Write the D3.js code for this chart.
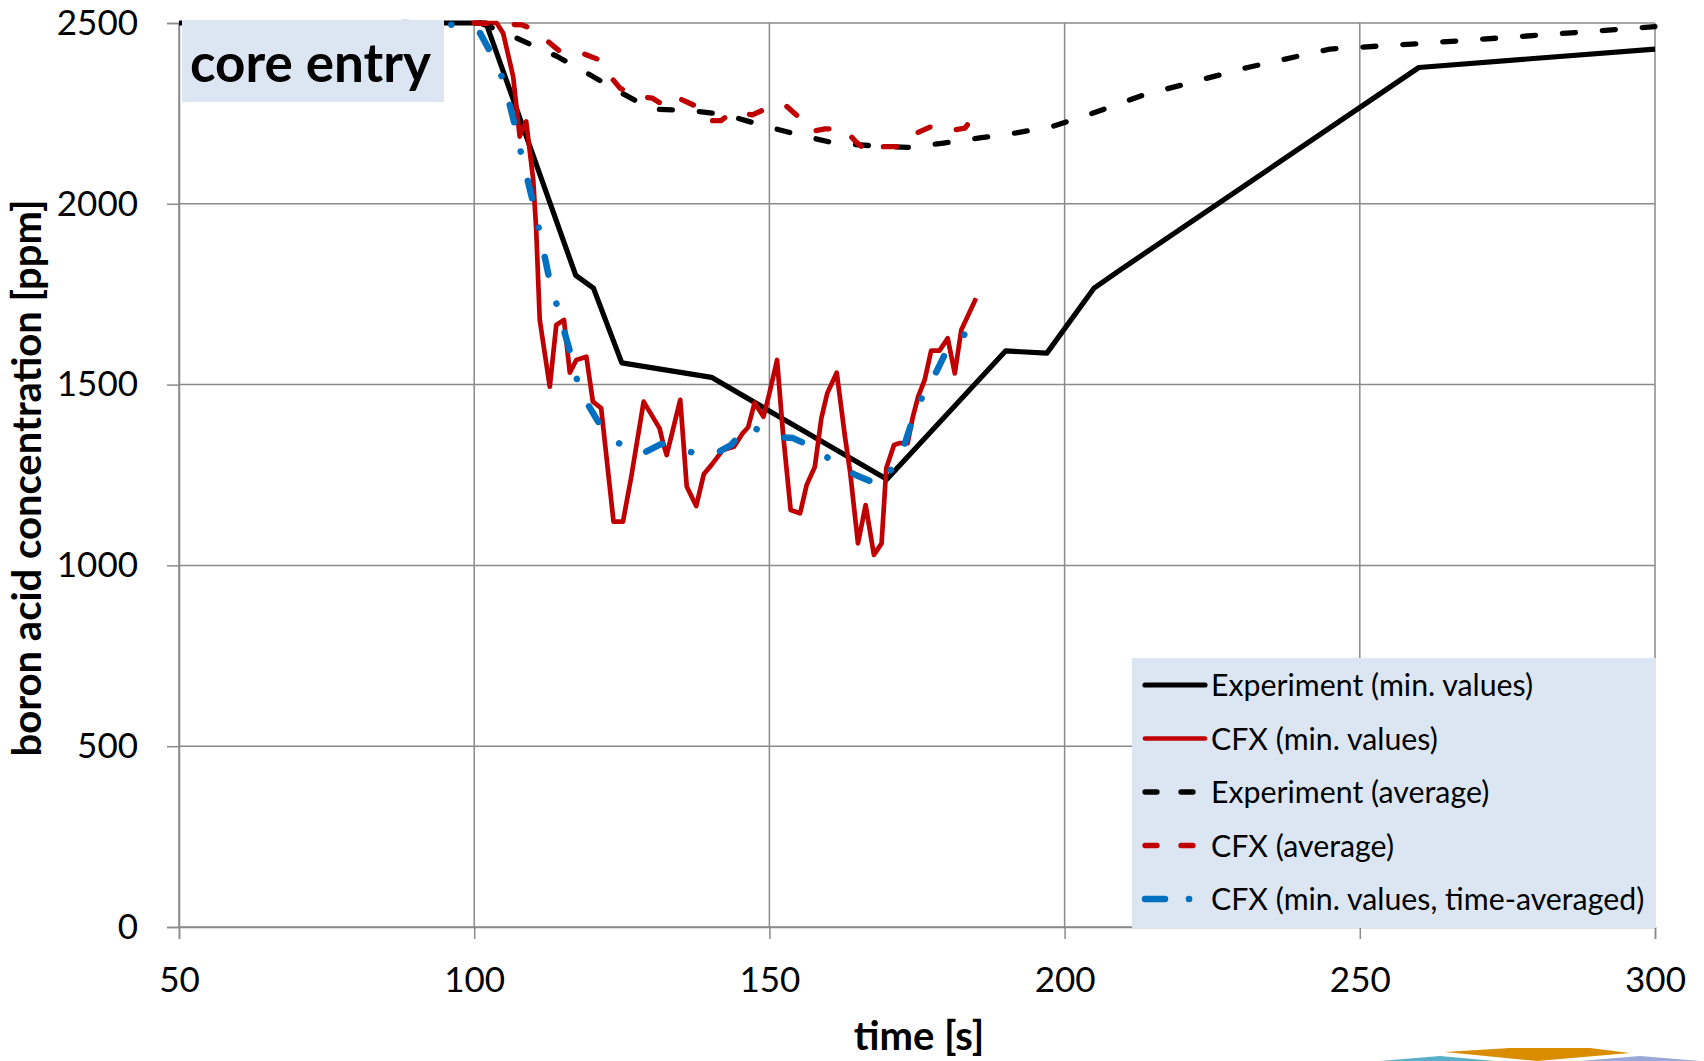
<!DOCTYPE html>
<html>
<head>
<meta charset="utf-8">
<script src="https://cdn.jsdelivr.net/npm/d3@7"></script>
<style>
  body { margin: 0; background: #fff; }
  svg { display: block; }
  text { font-family: Lato, "Open Sans", sans-serif; fill: #000; }
</style>
</head>
<body>
<svg></svg>
<script>
// data: [time s, boron acid ppm]
const expMin = [[50,2500],[102,2500],[117.2,1802],[120.2,1767],[125,1560],[140.2,1520],[169.9,1238],
  [190,1593],[197,1587],[205,1767],[209.5,1818],[260,2377],[300,2428]];

const cfxMin = [[100,2500],[103.8,2500],[104.9,2472],[106.6,2352],[107.7,2186],[108.8,2228],[110,2066],
  [110.5,1928],[111.1,1679],[112.8,1494],[113.9,1665],[115.2,1679],[116.2,1533],[117.3,1568],[119,1577],
  [120.1,1453],[121.5,1435],[123.6,1121],[125.2,1121],[126.6,1245],[128.7,1453],[131.4,1379],[132,1338],
  [132.6,1305],[134.9,1458],[136,1218],[137.6,1164],[138.9,1253],[140.2,1278],[142.1,1319],[144,1328],
  [145.5,1366],[146.4,1382],[147.5,1450],[149,1411],[150,1476],[151.3,1568],[152.3,1366],[153.6,1153],
  [155.2,1144],[156.3,1222],[157.7,1273],[158.8,1407],[159.8,1476],[161.4,1533],[162.8,1356],[163.7,1255],
  [165,1061],[166.3,1167],[167.7,1029],[169,1061],[169.8,1269],[171.1,1333],[172,1338],[173.4,1338],
  [174.3,1411],[175.2,1467],[176.3,1513],[177.4,1594],[178.8,1594],[180.2,1628],[181.4,1531],[182.5,1651],
  [185,1739]];

const expAvg = [[101,2500],[105.6,2470],[114,2408],[119.6,2357],[125,2306],[130,2262],[136.7,2258],
  [142.6,2246],[149,2216],[154.9,2191],[161,2168],[167,2161],[173.4,2156],[179.5,2168],[185.6,2182],
  [191.8,2196],[197.9,2214],[204,2246],[213,2299],[231,2377],[245,2428],[260,2443],[281,2467],[300,2490]];

const cfxAvg = [[100,2500],[108,2495],[110,2483],[112.7,2446],[114.7,2419],[118.2,2417],[120.9,2400],
  [122.8,2357],[124.7,2320],[127.5,2297],[130.2,2292],[132.8,2265],[134.9,2290],[137.7,2269],[139.3,2230],
  [141.8,2230],[143.9,2255],[147.1,2246],[149.7,2265],[152.6,2274],[154.9,2241],[157,2200],[159.4,2207],
  [162.6,2209],[164.6,2172],[167.1,2138],[169.1,2158],[172.2,2158],[174.3,2191],[177.2,2212],[179.8,2200],
  [183.1,2209],[185,2250]];

const cfxMinAvg = [[88,2500],[97,2495],[101,2472],[103,2412],[105,2340],[107,2210],[108,2135],[110,2002],
  [111,1928],[112.7,1794],[114,1720],[116.3,1587],[117.4,1515],[119.3,1444],[121.3,1389],[124.5,1338],
  [128.3,1308],[131.7,1336],[136,1315],[140.4,1305],[143.5,1333],[146.5,1388],[150.3,1356],[154,1352],
  [157.8,1324],[161.2,1281],[164.6,1250],[168.7,1222],[171.4,1283],[173,1340],[174.4,1411],[176.3,1481],
  [178.3,1536],[180.2,1600],[183,1638],[185.4,1690]];

const xTicks = [50, 100, 150, 200, 250, 300];
const yTicks = [0, 500, 1000, 1500, 2000, 2500];

// series styles, in legend order
const series = [
  { name: "Experiment (min. values)", data: expMin, color: "#000000", width: 5.2, dash: null },
  { name: "CFX (min. values)", data: cfxMin, color: "#c00000", width: 4.7, dash: null },
  { name: "Experiment (average)", data: expAvg, color: "#000000", width: 5.3, dash: "13 27" },
  { name: "CFX (average)", data: cfxAvg, color: "#c00000", width: 5.3, dash: "13 27" },
  { name: "CFX (min. values, time-averaged)", data: cfxMinAvg, color: "#0070c0", width: 6.5, dash: "18 30 0.1 30" }
];

const svgWidth = 1704, svgHeight = 1061;
const margin = { top: 23, right: 49, bottom: 134, left: 179 };
const width = svgWidth - margin.left - margin.right;
const height = svgHeight - margin.top - margin.bottom;

const svg = d3.select("svg").attr("width", svgWidth).attr("height", svgHeight);
const g = svg.append("g").attr("transform", `translate(${margin.left},${margin.top})`);

const x = d3.scaleLinear().domain([50, 300]).range([0, width]);
const y = d3.scaleLinear().domain([0, 2500]).range([height, 0]);

const gridColor = "#8a8a8a";

// grid
g.append("g").selectAll("line").data(yTicks).join("line")
  .attr("x1", 0).attr("x2", width)
  .attr("y1", d => y(d)).attr("y2", d => y(d))
  .attr("stroke", gridColor).attr("stroke-width", 1.5);
g.append("g").selectAll("line").data(xTicks).join("line")
  .attr("y1", 0).attr("y2", height)
  .attr("x1", d => x(d)).attr("x2", d => x(d))
  .attr("stroke", gridColor).attr("stroke-width", 1.5);

// axes
const xAxis = g.append("g")
  .attr("transform", `translate(0,${height})`)
  .call(d3.axisBottom(x).tickValues(xTicks).tickFormat(d3.format("d")).tickSize(12).tickPadding(28));
const yAxis = g.append("g")
  .call(d3.axisLeft(y).tickValues(yTicks).tickFormat(d3.format("d")).tickSize(12).tickPadding(29));

[xAxis, yAxis].forEach(a => {
  a.selectAll("path, line").attr("stroke", gridColor).attr("stroke-width", 1.5);
  a.selectAll("text").style("font-family", "Lato, sans-serif").style("font-size", "35px").attr("fill", "#000");
});

const line = d3.line().x(d => x(d[0])).y(d => y(d[1]));

function drawSeries(s) {
  g.append("path")
    .datum(s.data)
    .attr("d", line)
    .attr("fill", "none")
    .attr("stroke", s.color)
    .attr("stroke-width", s.width)
    .attr("stroke-linejoin", "round")
    .attr("stroke-linecap", s.dash ? "round" : "butt")
    .attr("stroke-dasharray", s.dash);
}

series.forEach(drawSeries);

// label box sits on top of the series
g.append("rect")
  .attr("x", 3).attr("y", -3).attr("width", 262).attr("height", 82)
  .attr("fill", "#dce6f2");
g.append("text")
  .attr("x", 11).attr("y", 59)
  .style("font-size", "53px").style("font-weight", "bold")
  .text("core entry");

// legend
const legend = svg.append("g").attr("transform", "translate(1132,658)");
legend.append("rect").attr("width", 524).attr("height", 270).attr("fill", "#dce6f2");
const rows = legend.selectAll(".row").data(series).join("g")
  .attr("class", "row")
  .attr("transform", (d, i) => `translate(0,${27 + i * 53.5})`);
rows.append("line")
  .attr("x1", 13).attr("x2", 73)
  .attr("stroke", d => d.color)
  .attr("stroke-width", d => d.width)
  .attr("stroke-linecap", "round")
  .attr("stroke-dasharray", (d, i) => i === 4 ? "20 24 0.1 30" : d.dash ? "12 24" : null);
rows.append("text")
  .attr("x", 79).attr("y", 11)
  .style("font-size", "30.3px")
  .text(d => d.name);

// axis titles
svg.append("text")
  .attr("x", margin.left + width / 2 + 2).attr("y", 1050)
  .attr("text-anchor", "middle")
  .style("font-size", "40px").style("font-weight", "bold")
  .text("time [s]");
svg.append("text")
  .attr("transform", `translate(41,478) rotate(-90)`)
  .attr("text-anchor", "middle")
  .style("font-size", "40px").style("font-weight", "bold")
  .text("boron acid concentration [ppm]");

// bit of the slide logo at the bottom edge
const logo = svg.append("g");
logo.append("polygon").attr("points", "1380,1061 1440,1056 1495,1061").attr("fill", "#5aafc8");
logo.append("polygon").attr("points", "1580,1061 1640,1056 1700,1061").attr("fill", "#9aa8d8");
logo.append("polygon").attr("points", "1445,1052 1510,1048 1590,1048 1630,1053 1537,1061").attr("fill", "#d98c00");
</script>
</body>
</html>
